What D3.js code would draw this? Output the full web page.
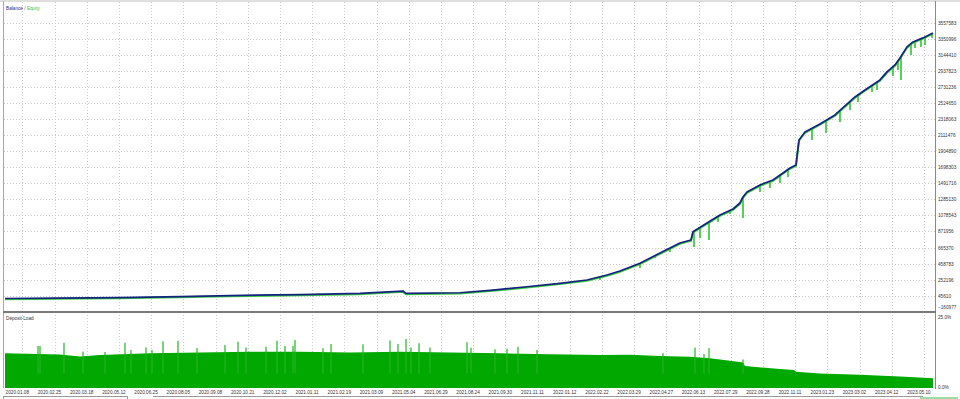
<!DOCTYPE html>
<html>
<head>
<meta charset="utf-8">
<script src="https://cdn.jsdelivr.net/npm/d3@7"></script>
<style>
  body { margin: 0; background: #fff; }
  svg { display: block; font-family: "Liberation Sans", Arial, sans-serif; }
</style>
</head>
<body>
<svg id="chart" width="960" height="399"></svg>
<script>
// Balance curve, [trade number, balance]
let balance = [
  [0, 10000], [55, 16000], [115, 22500], [175, 35300], [225, 48200],
  [295, 61000], [355, 76500], [398, 106000], [401, 76500], [455, 84200],
  [488, 118900], [522, 161400], [555, 205100], [582, 247600], [602, 311900],
  [615, 363400], [635, 462400], [655, 594900], [665, 659200], [675, 723500],
  [686, 762100], [688, 868900], [702, 980800], [715, 1083700], [728, 1160900],
  [735, 1238100], [738, 1315300], [742, 1379600], [755, 1469700], [768, 1534000],
  [778, 1624000], [785, 1688300], [791, 1726900], [794, 2048500], [800, 2151400],
  [815, 2254400], [830, 2370100], [840, 2485900], [850, 2601700], [860, 2691700],
  [875, 2820400], [882, 2923300], [890, 3013300], [895, 3103400], [902, 3244900],
  [908, 3309200], [918, 3360700], [928, 3425000],
];

// Equity lows where equity drops below balance, [trade number, equity]
let equityDips = [
  [595, 247600], [635, 401900], [650, 530600], [665, 607800], [689, 672100],
  [695, 787900], [704, 762100], [713, 993700], [725, 1096600], [738, 1045100],
  [755, 1379600], [765, 1431100], [775, 1495400], [783, 1572600], [807, 2048500],
  [821, 2138600], [835, 2280100], [845, 2434500], [853, 2537400], [867, 2666000],
  [872, 2691700], [888, 2871800], [893, 2949000], [896, 2820400], [906, 3142000],
  [910, 3232000], [916, 3244900], [920, 3270600], [927, 3360700],
];

// Deposit load base level, [trade number, percent]
let depositLoad = [
  [0, 11.9], [55, 11.5], [75, 10.8], [95, 11.3], [145, 11.9], [195, 12.2],
  [245, 12.4], [295, 12.4], [345, 12.2], [395, 12.4], [445, 12.2], [495, 11.9],
  [545, 11.6], [595, 11.3], [625, 11.4], [655, 11.0], [685, 10.7], [705, 10.2],
  [725, 9.3], [738, 8.7], [740, 7.5], [775, 6.5], [789, 6.2], [791, 5.6],
  [815, 5.0], [855, 4.5], [895, 3.9], [928, 3.3],
];

// Deposit load peaks, [trade number, percent]
let loadSpikes = [
  [33, 14.4], [35, 14.4], [59, 15.5], [78, 12.4], [100, 12.3], [120, 15.5],
  [126, 13.0], [141, 13.9], [147, 13.0], [158, 16.0], [173, 16.2], [192, 13.6],
  [220, 14.7], [233, 15.8], [241, 13.9], [261, 14.1], [272, 16.2], [280, 14.4],
  [288, 14.4], [290, 16.4], [318, 13.6], [326, 15.1], [358, 15.0], [385, 16.3],
  [393, 15.1], [401, 16.8], [406, 13.9], [414, 15.3], [425, 13.9], [462, 15.7],
  [466, 13.8], [490, 13.3], [502, 13.4], [513, 14.1], [532, 13.0], [658, 11.9],
  [690, 13.9], [699, 11.6], [704, 13.6], [738, 9.8],
];

let yTicks = [
  3557583, 3350996, 3144410, 2937823, 2731236, 2524650, 2318063, 2111476,
  1904890, 1698303, 1491716, 1285130, 1078543, 871956, 665370, 458783,
  252196, 45610, -160977,
];

let dateLabels = [
  "2020.01.08", "2020.02.25", "2020.03.18", "2020.05.12", "2020.06.25",
  "2020.08.05", "2020.09.08", "2020.10.21", "2020.12.02", "2021.01.11",
  "2021.02.19", "2021.03.09", "2021.05.04", "2021.06.29", "2021.08.24",
  "2021.09.30", "2021.11.11", "2022.01.12", "2022.02.22", "2022.03.29",
  "2022.04.27", "2022.06.13", "2022.07.29", "2022.09.28", "2022.11.11",
  "2023.01.23", "2023.03.02", "2023.04.12", "2023.05.10",
];

let loadTicks = [25, 0];

//////////// layout ////////////
let svg = d3.select("#chart");
let plotLeft = 4, plotRight = 935;
let topPanel = { top: 2, bottom: 312 };
let loadPanel = { top: 315, bottom: 388 };
let totalTrades = 928;
let firstTickTrade = 17.3, tradesPerTick = 32.2;

let x = d3.scaleLinear().domain([0, totalTrades]).range([5, 933]);
let y = d3.scaleLinear()
  .domain([d3.min(yTicks), d3.max(yTicks)])
  .range([311.8, 22.6]);
let yLoad = d3.scaleLinear().domain([0, 25]).range([loadPanel.bottom, loadPanel.top]);

let tickTrade = (d, i) => firstTickTrade + tradesPerTick * i;

// balance at a trade number, used to hang equity dips from the curve
let bis = d3.bisector(d => d[0]).left;
function balanceAt(t) {
  let i = bis(balance, t);
  if (i <= 0) return balance[0][1];
  if (i >= balance.length) return balance[balance.length - 1][1];
  let a = balance[i - 1], b = balance[i];
  return a[1] + (b[1] - a[1]) * (t - a[0]) / (b[0] - a[0]);
}

//////////// grid ////////////
let grid = svg.append("g")
  .attr("stroke", "#c9c9c9")
  .attr("stroke-width", 1)
  .attr("stroke-dasharray", "1,2");

grid.selectAll("line.h")
  .data(yTicks.slice(0, -1))
  .enter()
  .append("line")
  .attr("x1", plotLeft)
  .attr("x2", plotRight)
  .attr("y1", d => Math.round(y(d)) + 0.5)
  .attr("y2", d => Math.round(y(d)) + 0.5);

[topPanel, loadPanel].forEach(function (p) {
  grid.selectAll(null)
    .data(dateLabels)
    .enter()
    .append("line")
    .attr("x1", (d, i) => Math.round(x(tickTrade(d, i))) + 0.5)
    .attr("x2", (d, i) => Math.round(x(tickTrade(d, i))) + 0.5)
    .attr("y1", p.top)
    .attr("y2", p.bottom);
});

//////////// deposit load ////////////
svg.append("path")
  .datum(depositLoad)
  .attr("fill", "#00a800")
  .attr("d", d3.area()
    .x(d => x(d[0]))
    .y0(yLoad(0))
    .y1(d => yLoad(d[1])));

svg.append("g")
  .selectAll("line")
  .data(loadSpikes)
  .enter()
  .append("line")
  .attr("x1", d => x(d[0]))
  .attr("x2", d => x(d[0]))
  .attr("y1", yLoad(5))
  .attr("y2", d => yLoad(d[1]))
  .attr("stroke", "#22b422")
  .attr("stroke-width", 1.2);

//////////// equity + balance ////////////
let line = d3.line().x(d => x(d[0])).y(d => y(d[1]));

svg.append("path")
  .datum(balance)
  .attr("fill", "none")
  .attr("stroke", "#3ccf3c")
  .attr("stroke-width", 2)
  .attr("transform", "translate(0,0.8)")
  .attr("d", line);

svg.append("g")
  .selectAll("line")
  .data(equityDips)
  .enter()
  .append("line")
  .attr("x1", d => x(d[0]))
  .attr("x2", d => x(d[0]))
  .attr("y1", d => y(balanceAt(d[0])))
  .attr("y2", d => y(d[1]))
  .attr("stroke", "#2fc52f")
  .attr("stroke-width", 1.6);

svg.append("path")
  .datum(balance)
  .attr("fill", "none")
  .attr("stroke", "#14237f")
  .attr("stroke-width", 1.7)
  .attr("stroke-linejoin", "round")
  .attr("d", line);

//////////// frame ////////////
let frame = svg.append("g").attr("fill", "none");
frame.append("line")
  .attr("x1", 0).attr("x2", 960).attr("y1", 1).attr("y2", 1)
  .attr("stroke", "#bdbdbd");
frame.append("line")
  .attr("x1", 3.5).attr("x2", 3.5).attr("y1", 1).attr("y2", loadPanel.bottom)
  .attr("stroke", "#a8a8a8");
frame.append("line")
  .attr("x1", plotRight + 0.5).attr("x2", plotRight + 0.5).attr("y1", 1).attr("y2", loadPanel.bottom + 1)
  .attr("stroke", "#8a8a8a");
frame.append("line")
  .attr("x1", 3).attr("x2", plotRight + 1).attr("y1", 312).attr("y2", 312)
  .attr("stroke", "#7a7a7a").attr("stroke-width", 2);

// scrollbar strip at the bottom
frame.append("rect")
  .attr("x", 3.5).attr("y", 396.5).attr("width", 124).attr("height", 4)
  .attr("stroke", "#9a9a9a");
frame.append("line")
  .attr("x1", 153).attr("x2", 923).attr("y1", 396.5).attr("y2", 396.5)
  .attr("stroke", "#9a9a9a");
frame.append("line")
  .attr("x1", 920).attr("x2", 958).attr("y1", 398).attr("y2", 398)
  .attr("stroke", "#9fdc9f").attr("stroke-width", 2);

//////////// axes and text ////////////
let fs = "4.7px";

let yAxis = svg.append("g")
  .attr("transform", `translate(${plotRight + 3},0)`)
  .call(d3.axisRight(y).tickValues(yTicks).tickSize(0).tickPadding(0).tickFormat(d3.format("d")));
yAxis.select(".domain").remove();
yAxis.selectAll("text")
  .attr("font-size", fs)
  .attr("fill", "#333")
  .attr("font-family", "Liberation Sans, Arial, sans-serif")
  .attr("dy", (d, i) => i === yTicks.length - 1 ? "-0.6em" : "0.32em");

let loadAxis = svg.append("g")
  .attr("transform", `translate(${plotRight + 3},0)`)
  .call(d3.axisRight(yLoad).tickValues(loadTicks).tickSize(0).tickPadding(0)
    .tickFormat(d => d3.format(".1f")(d) + "%"));
loadAxis.select(".domain").remove();
loadAxis.selectAll("text")
  .attr("font-size", fs)
  .attr("fill", "#333")
  .attr("font-family", "Liberation Sans, Arial, sans-serif")
  .attr("dy", d => d === 25 ? "0.7em" : "0.2em");

svg.append("g")
  .selectAll("text")
  .data(dateLabels)
  .enter()
  .append("text")
  .attr("x", (d, i) => x(tickTrade(d, i)) - 5)
  .attr("y", 393.5)
  .attr("text-anchor", "middle")
  .attr("font-size", fs)
  .attr("fill", "#333")
  .text(d => d);

let legend = svg.append("text")
  .attr("x", 6)
  .attr("y", 10)
  .attr("font-size", fs);
legend.append("tspan").attr("fill", "#1a2a8c").text("Balance");
legend.append("tspan").attr("fill", "#555").text(" / ");
legend.append("tspan").attr("fill", "#3cbf3c").text("Equity");

svg.append("text")
  .attr("x", 6)
  .attr("y", 320)
  .attr("font-size", fs)
  .attr("fill", "#333")
  .text("Deposit Load");
</script>
</body>
</html>
